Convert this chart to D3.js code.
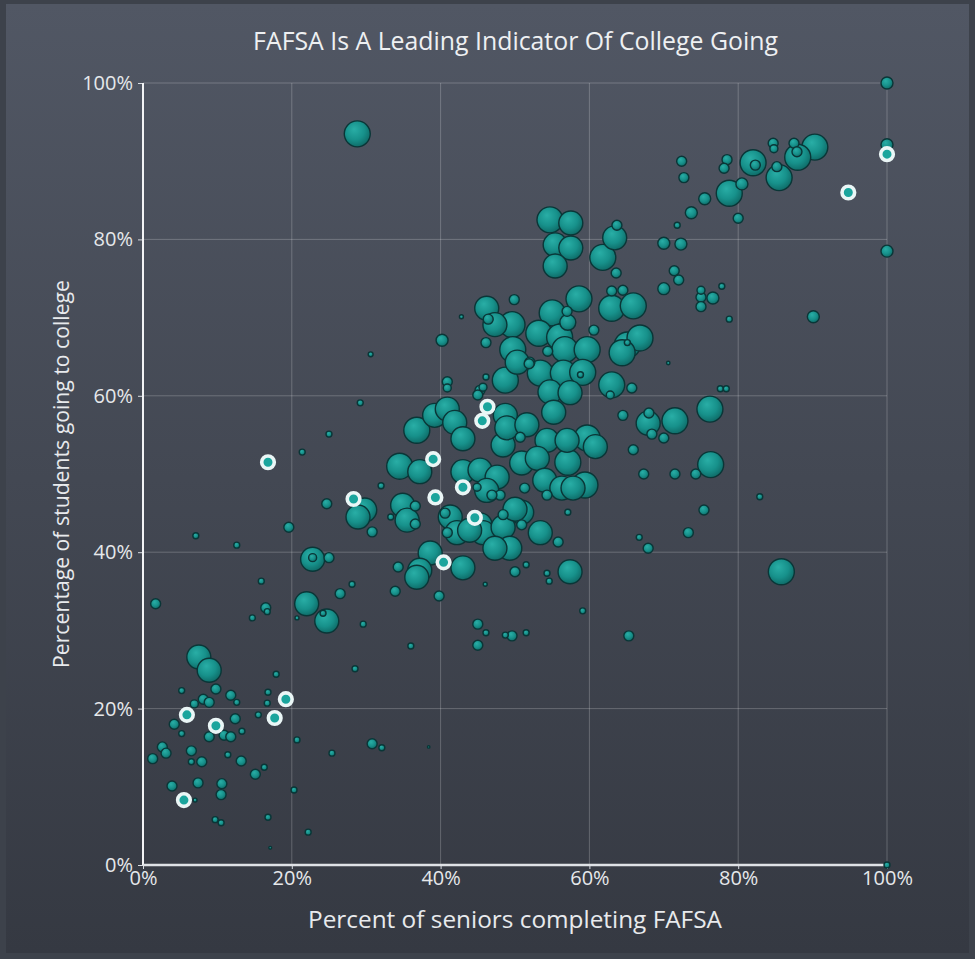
<!DOCTYPE html>
<html><head><meta charset="utf-8">
<script src="https://cdn.jsdelivr.net/npm/d3@7"></script>
<style>html,body{margin:0;padding:0;background:#3c414a;} svg{display:block;}</style>
</head><body><svg id="chart" width="975" height="959"></svg>
<script>
const title = "FAFSA Is A Leading Indicator Of College Going";
const xLabel = "Percent of seniors completing FAFSA";
const yLabel = "Percentage of students going to college";
const tickValues = [0, 20, 40, 60, 80, 100];

// Percent of seniors completing FAFSA (x), percent going to college (y), senior class size (bubble)
const fafsaPct = [
  28.8,30.6,42.8,49.9,40.2,46.1,100,100,100,90.1,
  90.3,88.0,87.5,87.9,85.5,85.2,84.7,84.8,82.0,82.3,
  78.8,80.5,80.0,78.5,78.1,75.5,73.7,72.4,72.7,71.8,
  70.0,72.3,71.4,72.0,70.0,75.0,75.0,76.6,75.0,77.8,
  78.8,
  54.7,57.5,55.4,57.5,55.4,63.4,63.7,61.8,63.6,63.0,
  64.5,63.0,65.9,58.6,57.0,60.6,55.0,46.2,46.4,49.6,
  47.3,57.1,53.2,56.0,56.7,54.4,49.7,59.7,65.1,66.8,
  64.4,65.1,52.0,53.4,48.7,56.5,59.1,58.8,63.0,65.7,
  70.6,46.1,77.6,78.4,76.2,50.3,51.9,40.9,40.9,45.3,
  54.7,57.4,62.8,29.2,36.8,39.2,40.9,41.9,43.0,45.0,
  45.7,48.4,48.7,48.9,51.6,50.7,54.3,55.2,57.0,59.7,
  60.8,64.5,65.9,34.5,37.2,43.0,45.3,47.6,50.9,53.0,
  57.1,54.0,56.3,59.4,57.8,51.3,54.3,48.0,46.9,44.9,
  46.2,34.9,35.5,36.6,36.6,33.3,32.0,29.8,28.9,30.8,
  41.3,40.6,42.2,45.3,45.7,48.4,48.4,50.9,50.9,53.4,
  49.3,47.3,50.0,40.9,38.6,43.0,37.2,34.3,55.8,57.1,
  57.4,54.3,50.0,51.5,71.5,67.9,68.0,68.4,70.0,76.3,
  74.3,71.5,67.3,82.9,75.4,73.3,66.7,67.9,85.8,54.6,
  46.0,59.1,65.3,49.6,48.7,51.5,46.1,45.0,45.0,100,
  25.0,21.4,24.7,19.6,7.1,12.6,22.8,22.8,25.0,22.0,
  24.7,24.2,20.7,26.5,28.1,15.9,16.5,16.7,14.7,1.7,
  29.6,36.0,28.5,17.9,7.5,8.9,33.9,39.8,36.8,43.9,
  9.8,5.2,8.1,8.9,6.9,11.8,12.6,16.8,16.7,15.5,
  12.4,13.3,4.2,5.2,8.9,10.9,11.8,2.6,3.1,1.3,
  6.5,6.5,7.9,11.4,13.2,16.3,15.1,3.9,7.4,10.6,
  10.5,7.0,9.7,10.5,16.8,20.7,20.3,22.2,17.1,30.8,
  32.1,25.4,38.4
];
const collegePct = [
  93.5,65.3,70.1,72.3,67.1,66.8,100,92.1,78.5,70.1,
  91.8,90.5,92.3,91.2,87.9,89.3,92.3,91.6,89.8,89.5,
  85.9,87.1,82.7,90.2,89.1,85.2,83.4,90.0,87.9,81.8,
  79.5,79.4,76.0,74.8,73.7,73.5,72.6,72.5,71.4,74.0,
  69.8,
  82.5,82.1,79.3,78.9,76.6,80.2,81.8,77.7,75.7,73.4,
  73.5,71.2,71.5,72.4,70.8,68.4,70.6,71.2,69.8,69.1,
  69.1,69.4,68.0,67.5,65.9,65.7,65.9,65.9,66.5,67.4,
  65.5,66.8,64.3,62.9,62.0,62.9,63.0,62.7,61.4,61.0,
  64.2,62.4,60.9,60.9,58.3,64.3,64.1,61.8,61.0,60.7,
  60.5,60.4,60.1,59.1,55.6,57.5,58.3,56.6,54.5,60.1,
  61.1,53.7,57.5,55.9,56.3,54.7,54.3,57.9,54.3,54.6,
  53.5,57.5,53.1,51.0,50.3,50.3,50.5,49.6,51.4,52.0,
  51.5,49.2,48.2,48.6,48.2,48.2,47.3,47.3,47.3,48.3,
  47.9,46.0,44.1,45.9,43.6,44.5,48.5,45.4,44.5,42.6,
  44.5,45.0,42.5,43.5,42.5,43.2,44.8,45.1,43.5,42.5,
  40.5,40.5,45.5,42.5,39.9,38.0,37.7,38.1,41.3,45.1,
  37.5,37.3,37.5,38.4,56.8,56.5,57.8,55.1,54.6,51.2,
  50.0,50.0,50.0,47.1,45.4,42.5,41.9,40.5,37.5,36.3,
  35.9,32.5,29.3,29.3,29.4,29.7,29.7,30.8,28.1,0,
  55.1,52.8,46.2,43.2,42.1,40.9,39.1,39.3,39.3,33.4,
  31.2,32.2,31.6,34.7,35.9,36.3,32.9,32.4,31.6,33.4,
  30.8,28.0,25.1,24.4,26.6,24.9,35.0,34.4,36.8,42.8,
  22.5,22.3,21.2,20.8,20.6,21.7,20.8,22.1,20.7,19.2,
  18.7,17.1,18.0,16.8,16.4,16.6,16.4,15.1,14.3,13.6,
  14.6,13.2,13.2,14.1,13.3,12.5,11.6,10.1,10.5,10.4,
  9.0,8.3,5.8,5.4,6.1,16.0,9.6,4.2,2.2,15.5,
  15.0,14.3,15.1
];
const seniors = [
  1690,60,40,250,360,250,360,360,360,360,
  1690,1690,250,250,1690,250,250,160,1690,250,
  1690,360,250,250,250,360,360,250,250,90,
  360,360,250,250,360,160,250,360,250,90,
  90,
  1690,1440,1440,1440,1440,1440,250,1690,250,250,
  250,1690,1690,1690,250,250,1690,1440,250,1690,
  1440,640,1690,1690,1690,250,1690,1690,1690,1690,
  1690,90,250,1690,1690,1690,1690,90,1690,250,
  30,90,90,90,1690,1440,250,250,160,250,
  1440,1440,160,90,1690,1440,1440,1440,1440,250,
  160,1440,1440,1440,1440,250,1440,1440,1440,1690,
  1440,250,250,1690,1440,1440,1440,1440,1440,1440,
  1690,1440,1440,1690,1440,250,250,250,250,160,
  1440,1440,1440,250,250,90,90,1440,1440,250,
  1440,250,1440,1440,1440,1440,250,1440,250,1440,
  1440,1440,1440,250,1440,1440,1440,250,250,90,
  1440,90,250,90,1690,1440,250,250,250,1690,
  250,250,250,90,250,250,90,250,1690,90,
  40,90,250,250,90,90,90,250,250,90,
  90,90,250,250,90,90,1440,160,250,1440,
  1440,90,40,250,90,90,250,90,90,250,
  90,90,90,90,1440,1440,250,250,1440,1440,
  250,90,250,250,160,250,90,90,90,90,
  250,90,250,90,250,250,250,250,250,250,
  250,90,250,90,250,90,250,250,250,250,
  250,40,90,90,90,90,90,90,20,250,
  90,90,15
];

// Highlighted schools (white ring markers)
const highlightFafsa   = [16.8, 28.3, 39.0, 39.3, 43.0, 44.6, 46.3, 45.6, 40.4, 5.9, 9.8, 17.7, 19.2, 5.5, 100, 94.8];
const highlightCollege = [51.5, 46.8, 51.9, 47.0, 48.3, 44.4, 58.6, 56.8, 38.7, 19.2, 17.8, 18.8, 21.2, 8.3, 90.9, 86.0];

const svg = d3.select("#chart");
const W = 975, H = 959;
const plot = {left: 143, right: 887, top: 83, bottom: 865};

const x = d3.scaleLinear().domain([0, 100]).range([plot.left, plot.right]);
const y = d3.scaleLinear().domain([0, 100]).range([plot.bottom, plot.top]);
const r = d3.scaleSqrt().domain([0, 1690]).range([0, 13]);

const defs = svg.append("defs");
const bg = defs.append("linearGradient").attr("id", "bg").attr("x1", 0).attr("y1", 0).attr("x2", 0).attr("y2", 1);
bg.append("stop").attr("offset", "0%").attr("stop-color", "#515764");
bg.append("stop").attr("offset", "100%").attr("stop-color", "#353942");

const bub = defs.append("radialGradient").attr("id", "bub")
  .attr("cx", "42%").attr("cy", "38%").attr("r", "62%").attr("fx", "38%").attr("fy", "32%");
bub.append("stop").attr("offset", "0%").attr("stop-color", "#29aea6");
bub.append("stop").attr("offset", "60%").attr("stop-color", "#17918b");
bub.append("stop").attr("offset", "100%").attr("stop-color", "#0f6d69");

svg.append("rect").attr("width", W).attr("height", H).attr("fill", "#3d424b");
svg.append("rect").attr("x", 6).attr("y", 4).attr("width", W - 12).attr("height", H - 10).attr("fill", "url(#bg)");

// gridlines
const grid = svg.append("g");
grid.selectAll(".gx").data(tickValues.slice(1)).join("line")
  .attr("x1", d => x(d)).attr("x2", d => x(d)).attr("y1", y(0)).attr("y2", y(100))
  .attr("stroke", "rgba(255,255,255,0.22)").attr("stroke-width", 1);
grid.selectAll(".gy").data(tickValues.slice(1)).join("line")
  .attr("y1", d => y(d)).attr("y2", d => y(d)).attr("x1", x(0)).attr("x2", x(100))
  .attr("stroke", "rgba(255,255,255,0.22)").attr("stroke-width", 1);

const font = "'Open Sans', 'Noto Sans', sans-serif";

// axes
const fmt = d => d + "%";
const xAxis = svg.append("g").attr("transform", `translate(0,${plot.bottom})`)
  .call(d3.axisBottom(x).tickValues(tickValues).tickFormat(fmt).tickSize(4).tickPadding(2));
const yAxis = svg.append("g").attr("transform", `translate(${plot.left},0)`)
  .call(d3.axisLeft(y).tickValues(tickValues).tickFormat(fmt).tickSize(5).tickPadding(5));
[xAxis, yAxis].forEach(a => {
  a.attr("font-size", null).attr("font-family", null);
  a.select(".domain").remove();
  a.selectAll(".tick line").attr("stroke", "#d8dbe0").attr("stroke-width", 1);
  a.selectAll(".tick text").attr("fill", "#e6e8eb").style("font-family", font).style("font-size", "20px");
});
svg.append("line").attr("x1", x(0)).attr("x2", x(0)).attr("y1", y(0)).attr("y2", y(100))
  .attr("stroke", "#f2f3f5").attr("stroke-width", 2);
svg.append("line").attr("x1", x(0)).attr("x2", x(100)).attr("y1", y(0)).attr("y2", y(0))
  .attr("stroke", "#dfe2e6").attr("stroke-width", 2.5);

// bubbles
const data = fafsaPct.map((v, i) => ({fx: v, cy: collegePct[i], n: seniors[i]}))
  .sort((a, b) => b.n - a.n);
svg.append("g").selectAll("circle").data(data).join("circle")
  .attr("cx", d => x(d.fx)).attr("cy", d => y(d.cy)).attr("r", d => r(d.n))
  .attr("fill", "url(#bub)").attr("stroke", "#0a3637").attr("stroke-width", 1.4);

// highlighted
const hl = highlightFafsa.map((v, i) => ({fx: v, cy: highlightCollege[i]}));
svg.append("g").selectAll("circle").data(hl).join("circle")
  .attr("cx", d => x(d.fx)).attr("cy", d => y(d.cy)).attr("r", 6.3)
  .attr("fill", "#1aa59d").attr("stroke", "#eaf6f6").attr("stroke-width", 3.6);

// texts
function fit(t, target) {
  const w = t.node().getComputedTextLength();
  const fs = parseFloat(t.attr("font-size"));
  t.attr("font-size", fs * target / w);
}
const tt = svg.append("text").attr("x", 515.5).attr("y", 50).attr("text-anchor", "middle")
  .attr("fill", "#eef0f2").attr("font-family", font).attr("font-size", 20).text(title);
fit(tt, 525);
const xl = svg.append("text").attr("x", 515).attr("y", 928).attr("text-anchor", "middle")
  .attr("fill", "#e8eaed").attr("font-family", font).attr("font-size", 18).text(xLabel);
fit(xl, 414);
const yl = svg.append("text").attr("transform", "translate(69,474) rotate(-90)").attr("text-anchor", "middle")
  .attr("fill", "#e8eaed").attr("font-family", font).attr("font-size", 16).text(yLabel);
fit(yl, 388);
</script>
</body></html>
